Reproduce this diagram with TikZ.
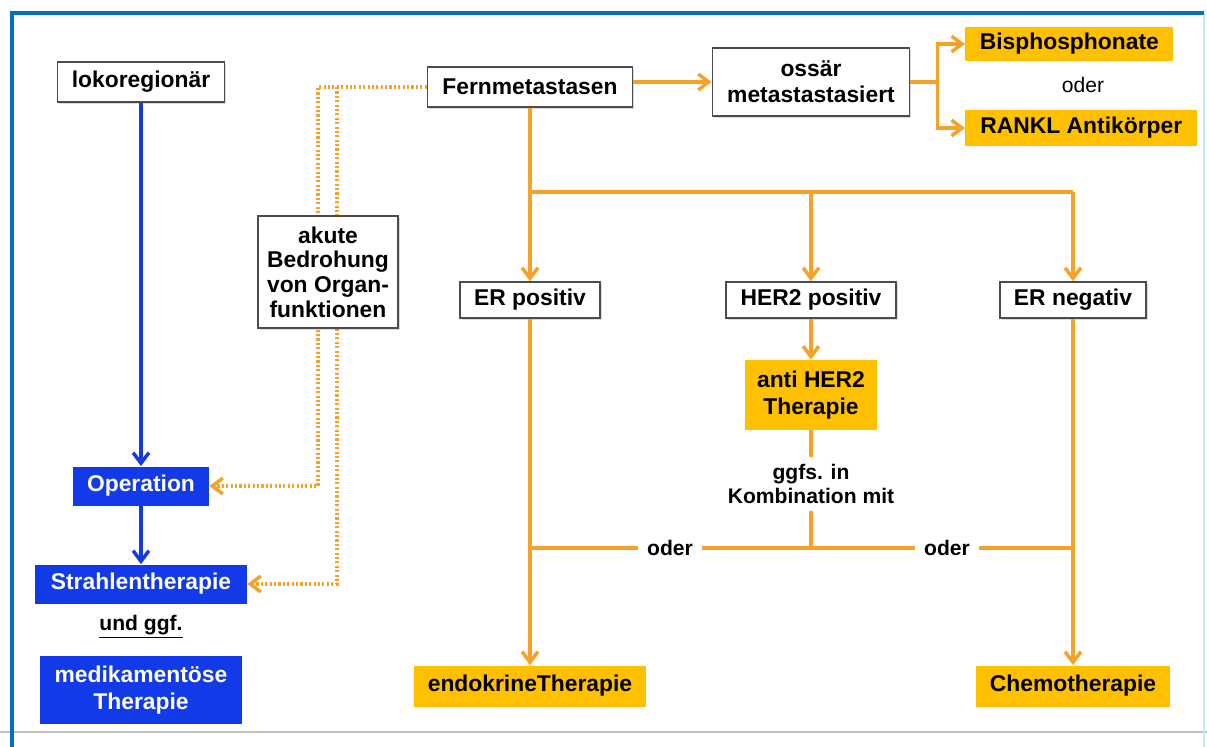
\documentclass[tikz,border=0pt]{standalone}
\usepackage{fontspec}
\setmainfont{Liberation Sans}
\usetikzlibrary{arrows.meta,shadows}
\definecolor{gelb}{RGB}{255,192,0}
\definecolor{orng}{RGB}{245,162,40}
\definecolor{blau}{RGB}{18,58,232}
\definecolor{rahmenblau}{RGB}{0,112,192}

\begin{document}
\begin{tikzpicture}[x=0.02cm,y=-0.02cm,
    every node/.style={font=\bfseries\fontsize{13}{15}\selectfont, align=center, inner sep=0pt},
    wbox/.style={draw=black!70, line width=0.9pt, fill=white,
        drop shadow={shadow xshift=1pt,shadow yshift=-1pt,opacity=0.3}},
    ybox/.style={fill=gelb},
    bbox/.style={fill=blau, text=white},
    klein/.style={font=\bfseries\fontsize{12}{14}\selectfont},
    olink/.style={draw=orng, line width=2pt},
    oarr/.style={olink, -{Straight Barb[length=6pt,width=9pt]}},
    barr/.style={draw=blau, line width=2pt, -{Straight Barb[length=6pt,width=9pt]}},
    dlink/.style={draw=orng, line width=2pt, dash pattern=on 1.2pt off 1.3pt,
        -{Straight Barb[length=6pt,width=9pt]}}]
    \useasboundingbox (0,0) rectangle (1207,747);

    % rahmen
    \draw[black!25, line width=0.6pt] (0,732) -- (1207,732);
    \draw[cyan!25, line width=0.7pt] (1204,13) -- (1204,747);
    \draw[rahmenblau, line width=2.2pt] (12,747) -- (12,13) -- (1204,13);

    % lokoregionaer
    \node[wbox, minimum width=3.34cm, minimum height=0.8cm] (loko) at (141,82) {lokoregionär};
    \node[bbox, minimum width=2.72cm, minimum height=0.78cm] (op) at (141,486) {Operation};
    \node[bbox, minimum width=4.24cm, minimum height=0.78cm] (str) at (141,584) {Strahlentherapie};
    \node[klein] (undggf) at (141,627) {\underline{und ggf.}};
    \node[bbox, minimum width=4.06cm, minimum height=1.36cm] (medi) at (141,690) {medikamentöse\\Therapie};

    % fernmetastasen
    \node[wbox, minimum width=4.1cm, minimum height=0.8cm] (fern) at (530,87) {Fernmetastasen};
    \node[wbox, minimum width=3.94cm, minimum height=1.36cm] (oss) at (811,82) {ossär\\metastastasiert};
    \node[ybox, anchor=west, minimum width=4.16cm, minimum height=0.7cm] (bis) at (965,44) {Bisphosphonate};
    \node[font=\fontsize{12}{14}\selectfont] (oder0) at (1083,85) {oder};
    \node[ybox, anchor=west, minimum width=4.64cm, minimum height=0.74cm] (rankl) at (965,128) {RANKL Antikörper};
    \node[wbox, minimum width=2.8cm, minimum height=0.72cm] (erpos) at (530,300) {ER positiv};
    \node[wbox, minimum width=3.4cm, minimum height=0.72cm] (her2) at (811,300) {HER2 positiv};
    \node[wbox, minimum width=2.92cm, minimum height=0.72cm] (erneg) at (1073,300) {ER negativ};
    \node[ybox, minimum width=2.66cm, minimum height=1.4cm] (anti) at (811,395) {anti HER2\\Therapie};
    \node[klein, inner sep=4pt] (ggfs) at (811,484) {ggfs. in\\Kombination mit};
    \node[klein, inner sep=5pt] (oder1) at (670,548) {oder};
    \node[klein, inner sep=5pt] (oder2) at (947,548) {oder};
    \node[ybox, minimum width=4.66cm, minimum height=0.82cm] (endo) at (530,686) {endokrineTherapie};
    \node[ybox, minimum width=3.9cm, minimum height=0.82cm] (chemo) at (1073,686) {Chemotherapie};

    % pfeile links
    \draw[barr] (loko) -- (op);
    \draw[barr] (op) -- (str);

    % pfeile rechts
    \draw[oarr] (fern.east |- oss.west) -- (oss.west);
    \draw[olink] (oss.east) -- ++(27,0) coordinate (ossb);
    \draw[oarr] (ossb) |- (bis.west);
    \draw[oarr] (ossb) |- (rankl.west);
    \coordinate (fernb) at (530,192);
    \draw[olink] (fern) -- (fernb) -- (fernb -| erneg);
    \draw[oarr] (fernb) -- (erpos);
    \draw[oarr] (fernb -| her2) -- (her2);
    \draw[oarr] (fernb -| erneg) -- (erneg);
    \draw[oarr] (her2) -- (anti);
    \draw[oarr] (erpos) -- (endo);
    \draw[oarr] (erneg) -- (chemo);
    \coordinate (oderm) at (811,548);
    \draw[olink] (anti) -- (ggfs);
    \draw[olink] (ggfs) -- (oderm);
    \draw[olink] (erpos |- oderm) -- (oder1) (oder1) -- (oder2) (oder2) -- (erneg |- oderm);

    % akute bedrohung, gepunktet
    \coordinate (da) at (318,87);
    \coordinate (db) at (337,87);
    \draw[dlink] (fern.west) -- (da) |- (op.east);
    \draw[dlink] (db) |- (str.east);
    \node[wbox, font=\bfseries\fontsize{13}{14}\selectfont, minimum width=2.8cm, minimum height=2.24cm] (akute) at (328,272) {akute\\Bedrohung\\von Organ-\\funktionen};
\end{tikzpicture}
\end{document}
